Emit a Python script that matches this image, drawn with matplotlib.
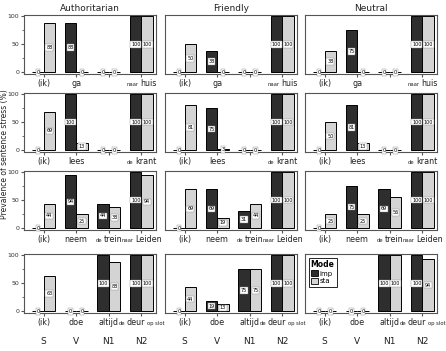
import matplotlib.pyplot as plt
import matplotlib.patches as mpatches
from matplotlib.offsetbox import TextArea, HPacker, AnnotationBbox
from matplotlib.transforms import blended_transform_factory

conditions = ["Authoritarian", "Friendly", "Neutral"]

# x labels for each sentence row: (small prefix, main word, small suffix)
labels_r1 = [("", "(ik)", ""), ("", "ga", ""), ("", "", ""), ("naar", "huis", "")]
labels_r2 = [("", "(ik)", ""), ("", "lees", ""), ("", "", ""), ("de", "krant", "")]
labels_r3 = [("", "(ik)", ""), ("", "neem", ""), ("de", "trein", ""), ("naar", "Leiden", "")]
labels_r4 = [("", "(ik)", ""), ("", "doe", ""), ("", "altijd", ""), ("de", "deur", "op slot")]
roles = ["S", "V", "N1", "N2"]

# values per condition (Authoritarian, Friendly, Neutral)
imp_r1 = [[0, 88, 0, 100], [0, 38, 0, 100], [0, 75, 0, 100]]
sta_r1 = [[88, 0, 0, 100], [50, 0, 0, 100], [38, 0, 0, 100]]
imp_r2 = [[0, 100, 0, 100], [0, 75, 0, 100], [0, 81, 0, 100]]
sta_r2 = [[69, 13, 0, 100], [81, 3, 0, 100], [50, 13, 0, 100]]
imp_r3 = [[0, 94, 44, 100], [0, 69, 31, 100], [0, 75, 69, 100]]
sta_r3 = [[44, 25, 38, 94], [69, 19, 44, 100], [25, 25, 56, 100]]
imp_r4 = [[0, 0, 100, 100], [0, 19, 75, 100], [0, 0, 100, 100]]
sta_r4 = [[63, 0, 88, 100], [44, 13, 75, 100], [0, 0, 100, 94]]

rows = [(labels_r1, imp_r1, sta_r1), (labels_r2, imp_r2, sta_r2),
        (labels_r3, imp_r3, sta_r3), (labels_r4, imp_r4, sta_r4)]

dark = "#2e2e2e"
light = "#d4d4d4"
w = 0.35

fig = plt.figure(figsize=(4.46, 3.51), dpi=100)
lefts = [0.054, 0.370, 0.684]
bottoms = [0.789, 0.567, 0.345, 0.108]
pw, ph = 0.296, 0.168


def value_label(ax, x, v):
    y = v / 2 if v > 0 else 0
    ax.text(x, y, str(v), ha="center", va="center", fontsize=3.5, zorder=5,
            bbox=dict(boxstyle="square,pad=0.15", fc="white", ec="#888888", lw=0.3))


def word_label(ax, x, pre, main, suf):
    small = dict(fontsize=3.8, color="#222222")
    big = dict(fontsize=5.8, color="#222222")
    parts = []
    if pre:
        parts.append(TextArea(pre, textprops=small))
    parts.append(TextArea(main, textprops=big))
    if suf:
        parts.append(TextArea(suf, textprops=small))
    box = HPacker(children=parts, align="baseline", pad=0, sep=1.2)
    ab = AnnotationBbox(box, (x, -0.08), xycoords=blended_transform_factory(ax.transData, ax.transAxes),
                        box_alignment=(0.5, 1), frameon=False, pad=0, annotation_clip=False)
    ax.add_artist(ab)


for r, (labels, imp, sta) in enumerate(rows):
    for c in range(3):
        ax = fig.add_axes([lefts[c], bottoms[r], pw, ph])
        xs = range(4)
        ax.bar([x - w / 2 for x in xs], imp[c], w, color=dark, edgecolor="black", lw=0.7, label="imp")
        ax.bar([x + w / 2 for x in xs], sta[c], w, color=light, edgecolor="black", lw=0.7, label="sta")
        for x in xs:
            value_label(ax, x - w / 2, imp[c][x])
            value_label(ax, x + w / 2, sta[c][x])
        ax.set_xlim(-0.6, 3.45)
        ax.set_ylim(-3, 102)
        for s in ax.spines.values():
            s.set_color("#555555")
            s.set_linewidth(0.8)
        ax.set_xticks(list(xs))
        ax.set_xticklabels([])
        ax.tick_params(axis="x", length=2, color="#555555")
        if c == 0:
            ax.set_yticks([0, 50, 100])
            ax.set_yticks([25, 75], minor=True)
            ax.tick_params(axis="y", labelsize=4.5, length=2.5, color="#555555", labelcolor="#333333", pad=1)
            ax.tick_params(axis="y", which="minor", length=1.5, color="#555555")
        else:
            ax.set_yticks([])

        tr = blended_transform_factory(ax.transData, ax.transAxes)
        for x, (pre, main, suf) in enumerate(labels):
            if main:
                word_label(ax, x, pre, main, suf)
            if r == 3:
                ax.text(x, -0.4, roles[x], transform=tr, ha="center", va="top",
                        fontsize=6.5, color="#222222")

        if r == 0:
            ax.set_title(conditions[c], fontsize=6.5, pad=3, color="#222222")
        if r == 3 and c == 2:
            handles = [mpatches.Patch(fc=dark, ec="black", lw=0.6, label="imp"),
                       mpatches.Patch(fc=light, ec="black", lw=0.6, label="sta")]
            leg = ax.legend(handles=handles, title="Mode", loc="upper left", fontsize=5,
                            title_fontsize=5.5, handlelength=1, handleheight=1, handletextpad=0.3,
                            borderpad=0.3, labelspacing=0.2, fancybox=False, edgecolor="black",
                            framealpha=1, alignment="left")
            leg.get_title().set_fontweight("bold")
            leg.get_frame().set_linewidth(0.6)

fig.text(0.009, 0.56, "Prevalence of sentence stress (%)", rotation=90, ha="center", va="center",
         fontsize=5.5, color="#222222")

plt.savefig("out.png", dpi=100)
